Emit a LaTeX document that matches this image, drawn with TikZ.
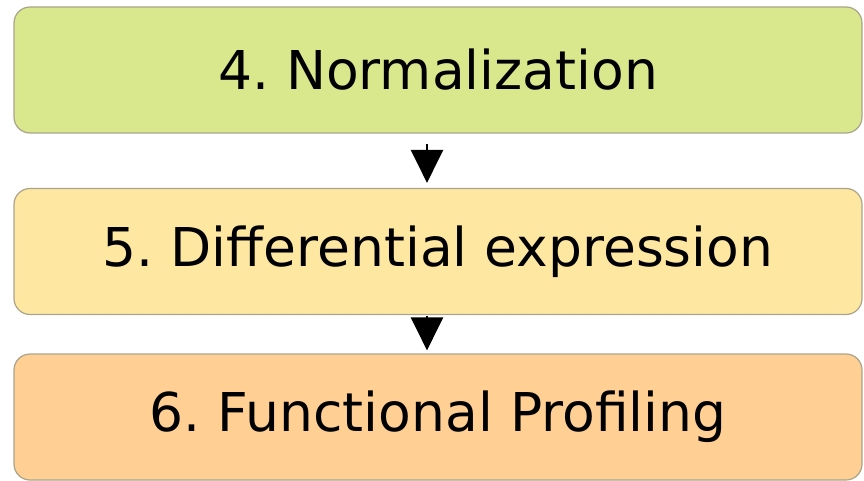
\documentclass[tikz,border=0pt]{standalone}
\usepackage{fontspec}
\setmainfont{DejaVu Sans}
\usetikzlibrary{arrows.meta}
\definecolor{stepgreen}{HTML}{DAE88D}
\definecolor{stepyellow}{HTML}{FEE8A1}
\definecolor{steporange}{HTML}{FFCF94}
\definecolor{stepedge}{HTML}{A9A48A}
\begin{document}
\frenchspacing
\begin{tikzpicture}[x=1pt,y=-1pt,
  stepbox/.style={draw=stepedge, line width=1.2pt, rounded corners=16pt,
    minimum width=848pt, minimum height=126pt, inner sep=0pt,
    font=\fontsize{53.5}{60}\selectfont, text=black},
  flow/.style={draw=black, line width=2.5pt,
    -{Triangle[length=33pt,width=32pt]}}]
  \useasboundingbox (0,0) rectangle (864,481);
  \node[stepbox, fill=stepgreen]  (norm) at (438,70)  {4. Normalization};
  \node[stepbox, fill=stepyellow] (diff) at (438,251.5) {5. Differential expression};
  \node[stepbox, fill=steporange] (prof) at (438,417) {6. Functional Profiling};
  \draw[flow] ([xshift=-11pt,yshift=-10pt]norm.south) -- ([xshift=-11pt,yshift=5pt]diff.north);
  \draw[flow] ([xshift=-11pt,yshift=-1pt]diff.south) -- ([xshift=-11pt,yshift=3pt]prof.north);
\end{tikzpicture}
\end{document}
